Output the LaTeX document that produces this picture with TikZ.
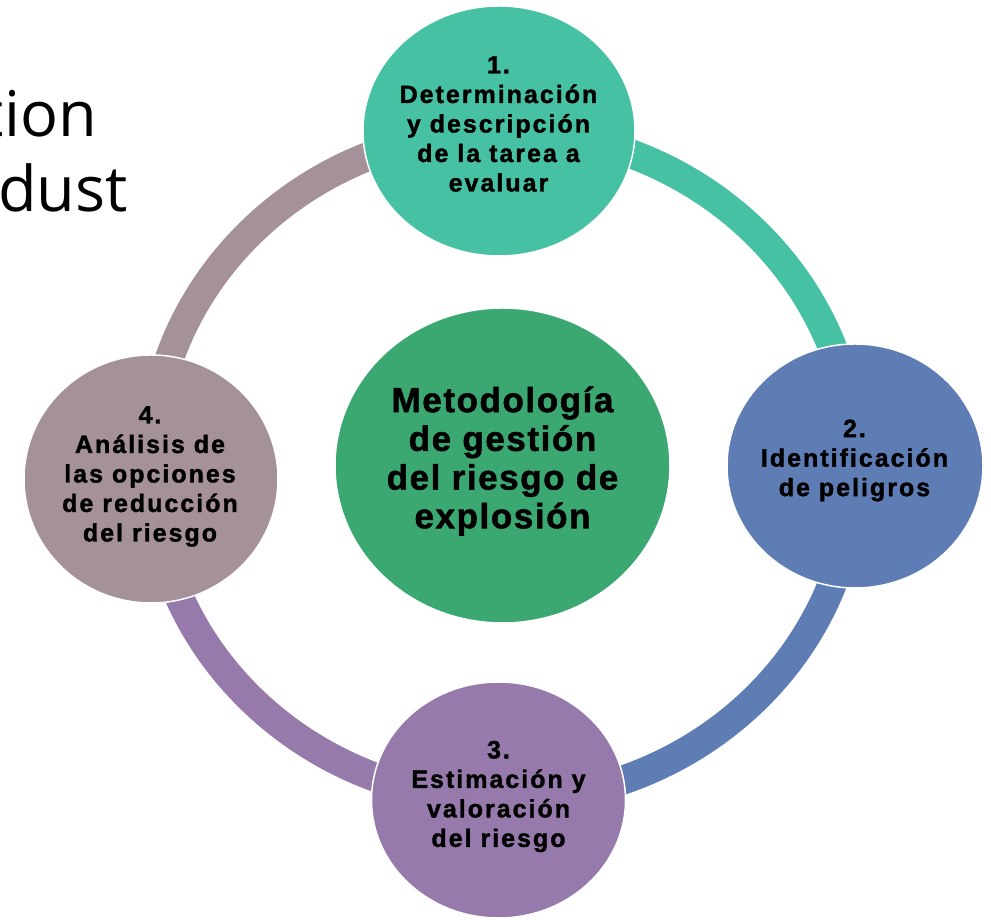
\documentclass[tikz,border=0pt]{standalone}
\usepackage{fontspec}
\setmainfont{Liberation Sans}
\newfontfamily\bgfont{Open Sans}
\usetikzlibrary{shapes.geometric,calc}
\definecolor{cTeal}{RGB}{70,193,163}
\definecolor{cBlue}{RGB}{95,125,181}
\definecolor{cPurple}{RGB}{150,122,172}
\definecolor{cMauve}{RGB}{164,145,153}
\definecolor{cGreen}{RGB}{59,168,114}
\begin{document}
\begin{tikzpicture}[x=1pt,y=1pt,
  bubble/.style={ellipse, draw=white, line width=1.5pt, inner sep=0pt},
  steptext/.style={align=center, inner sep=0pt, text=black,
    font=\fontsize{25}{29.5}\selectfont\bfseries\addfontfeature{LetterSpace=8,FakeBold=1.5}},
  maintext/.style={align=center, inner sep=0pt, text=black,
    font=\fontsize{35}{38.7}\selectfont\bfseries\addfontfeature{LetterSpace=4.5,FakeBold=1.5}},
  bgtext/.style={anchor=base east, inner sep=0pt, text=black,
    font=\bgfont\fontsize{63}{75}\selectfont},
  ringseg/.style={line width=29pt}]
\useasboundingbox (0,0) rectangle (991,920);
\begin{scope}
\clip (0,0) rectangle (991,920);
% background slide text
\node[bgtext] (bgA) at (97,783) {tion};
\node[bgtext] (bgB) at (128,708) {dust};
% ring
\coordinate (ring) at (503,454.5);
\coordinate (rTop) at ($(ring)+(0,334.5)$);
\coordinate (rRight) at ($(ring)+(352,0)$);
\coordinate (rBottom) at ($(ring)+(0,-334.5)$);
\coordinate (rLeft) at ($(ring)+(-352,0)$);
\draw[ringseg, cTeal] (rTop) arc[start angle=90, end angle=0, x radius=352, y radius=334.5];
\draw[ringseg, cBlue] (rRight) arc[start angle=0, end angle=-90, x radius=352, y radius=334.5];
\draw[ringseg, cPurple] (rBottom) arc[start angle=-90, end angle=-180, x radius=352, y radius=334.5];
\draw[ringseg, cMauve] (rLeft) arc[start angle=180, end angle=90, x radius=352, y radius=334.5];
% circles
\node[bubble, fill=cGreen, minimum width=335pt, minimum height=315pt] (c0) at (502.5,454.5) {};
\node[bubble, fill=cTeal, minimum width=272pt, minimum height=250pt] (c1) at (499,789) {};
\node[bubble, fill=cBlue, minimum width=256pt, minimum height=244pt] (c2) at (855,454) {};
\node[bubble, fill=cPurple, minimum width=254pt, minimum height=236pt] (c3) at (498.5,120) {};
\node[bubble, fill=cMauve, minimum width=254pt, minimum height=248pt] (c4) at (151,441) {};
% texts
\node[maintext] (t0) at (502.5,459) {Metodología\\de gestión\\del riesgo de\\explosión};
\node[steptext] (t1) at (498.5,796) {1.\\Determinación\\y descripción\\de la tarea a\\evaluar};
\node[steptext] (t2) at (854.5,459.5) {2.\\Identificación\\de peligros};
\node[steptext] (t3) at (498.5,123.5) {3.\\Estimación y\\valoración\\del riesgo};
\node[steptext] (t4) at (150,443.5) {4.\\Análisis de\\las opciones\\de reducción\\del riesgo};
\end{scope}
\end{tikzpicture}
\end{document}
